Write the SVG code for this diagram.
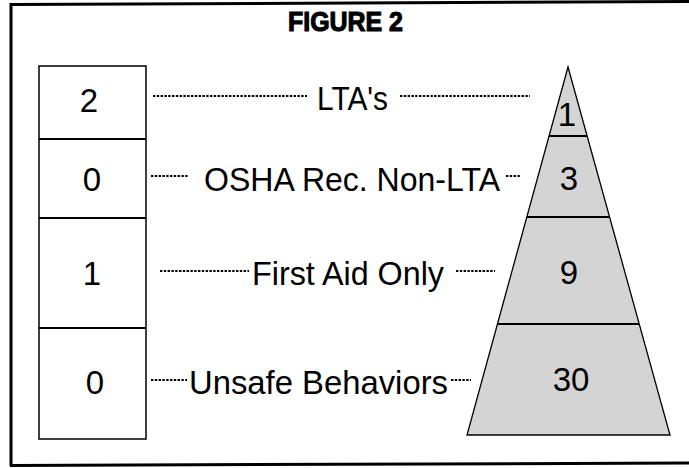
<svg xmlns="http://www.w3.org/2000/svg" width="689" height="468" viewBox="0 0 689 468">
<style>
.frame{stroke:#000;stroke-width:3;fill:none}
.box{fill:#fff;stroke:#000;stroke-width:1.5}
.tier{fill:#d4d4d4;stroke:#000;stroke-width:1.3}
.div{stroke:#000;stroke-width:2}
.lbl{font-family:"Liberation Sans",Arial,sans-serif;font-size:33px;fill:#000}
.num{font-family:"Liberation Sans",Arial,sans-serif;font-size:33px;fill:#000;text-anchor:middle}
.title{font-family:"Liberation Sans Narrow","Liberation Sans",Arial,sans-serif;font-size:27px;font-weight:bold;fill:#000;stroke:#000;stroke-width:1.1}
.dot{stroke:#000;stroke-width:2;stroke-dasharray:2.4 1.4;fill:none}
</style>
<rect width="689" height="468" fill="#fff"/>
<g id="frame">
<line class="frame" x1="10" y1="4.5" x2="689" y2="1.5"/>
<line class="frame" x1="11" y1="3" x2="11" y2="466"/>
<line class="frame" x1="10" y1="465.5" x2="689" y2="463"/>
</g>
<g id="title"><text class="title" x="288" y="31" textLength="115" lengthAdjust="spacingAndGlyphs">FIGURE 2</text></g>
<g id="left-column">
<rect class="box" x="39" y="66" width="107" height="373"/>
<g id="box-lta"><text class="num" x="89" y="112">2</text></g>
<g id="box-osha"><line class="div" x1="39" y1="139" x2="146" y2="139"/><text class="num" x="92" y="191">0</text></g>
<g id="box-firstaid"><line class="div" x1="39" y1="218" x2="146" y2="218"/><text class="num" x="92" y="285">1</text></g>
<g id="box-unsafe"><line class="div" x1="39" y1="328" x2="146" y2="328"/><text class="num" x="95" y="394">0</text></g>
</g>
<g id="pyramid">
<polygon class="tier" points="568,67 670,435 467,435"/>
<g id="tier-lta"><text class="num" x="567" y="126">1</text></g>
<g id="tier-osha"><line class="div" x1="549" y1="136" x2="587" y2="136"/><text class="num" x="569" y="190">3</text></g>
<g id="tier-firstaid"><line class="div" x1="527" y1="217" x2="609" y2="217"/><text class="num" x="569" y="284">9</text></g>
<g id="tier-unsafe"><line class="div" x1="497" y1="324" x2="639" y2="324"/><text class="num" x="571" y="391">30</text></g>
</g>
<g id="connectors">
<line class="dot" x1="153" y1="96" x2="307" y2="96"/>
<line class="dot" x1="400" y1="96" x2="530" y2="96"/>
<line class="dot" x1="151" y1="176" x2="188" y2="176"/>
<line class="dot" x1="506" y1="176" x2="521" y2="176"/>
<line class="dot" x1="160" y1="271" x2="249" y2="271"/>
<line class="dot" x1="456" y1="271" x2="495" y2="271"/>
<line class="dot" x1="151" y1="380" x2="187" y2="380"/>
<line class="dot" x1="451" y1="380" x2="471" y2="380"/>
</g>
<g id="labels">
<text class="lbl" x="317" y="110" textLength="71" lengthAdjust="spacingAndGlyphs">LTA's</text>
<text class="lbl" x="204" y="191" textLength="296" lengthAdjust="spacingAndGlyphs">OSHA Rec. Non-LTA</text>
<text class="lbl" x="252" y="285" textLength="192" lengthAdjust="spacingAndGlyphs">First Aid Only</text>
<text class="lbl" x="189" y="394" textLength="259" lengthAdjust="spacingAndGlyphs">Unsafe Behaviors</text>
</g>
</svg>
